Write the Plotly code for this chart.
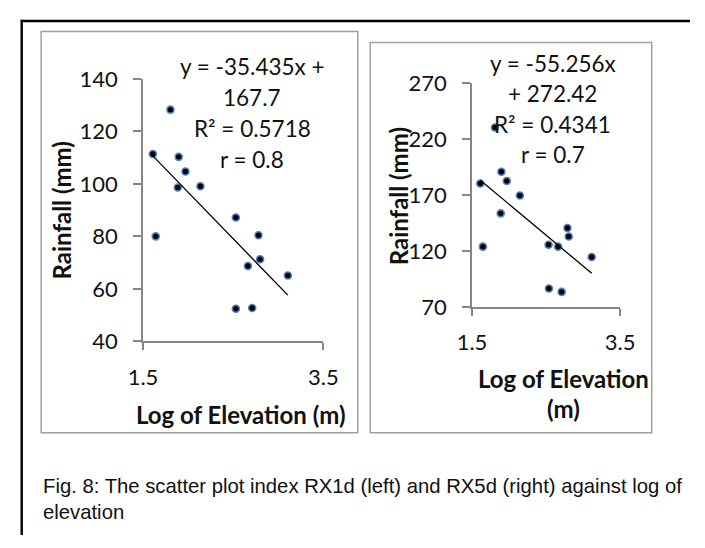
import plotly.graph_objects as go

W, H = 705, 548

# Left panel (RX1d)
x_left = [1.609, 1.804, 1.641, 1.896, 1.886, 1.971, 2.137, 2.530, 2.781, 2.799, 2.664, 3.107, 2.530, 2.711]
y_left = [111.4, 128.3, 80.0, 110.3, 98.6, 104.7, 99.1, 87.2, 80.4, 71.3, 68.7, 65.1, 52.4, 52.7]
slope_left, intercept_left = -35.435, 167.7
eq_left = ["y = -35.435x +", "167.7", "R² = 0.5718", "r = 0.8"]

# Right panel (RX5d)
x_right = [1.612, 1.647, 1.810, 1.897, 1.970, 1.888, 2.147, 2.534, 2.663, 2.789, 2.806, 3.116, 2.539, 2.711]
y_right = [180.4, 124.0, 230.4, 190.8, 182.6, 153.7, 169.6, 125.7, 124.0, 140.7, 133.1, 114.7, 86.6, 83.6]
slope_right, intercept_right = -55.256, 272.42
eq_right = ["y = -55.256x", "+ 272.42", "R² = 0.4341", "r = 0.7"]

x_ticks = [1.5, 3.5]
x_tick_text = ["1.5", "3.5"]
y_ticks_left = [40, 60, 80, 100, 120, 140]
y_ticks_right = [70, 120, 170, 220, 270]

x_title_left = ["Log of Elevation (m)"]
x_title_right = ["Log of Elevation", "(m)"]
y_title = "Rainfall (mm)"
caption = ["Fig. 8: The scatter plot index RX1d (left) and RX5d (right) against log of",
           "elevation"]

FONT = "Lato, 'Open Sans', sans-serif"
AXCOL = "#868686"
TXT = "#111"


def px(v):
    return v / W


def py(v):
    return 1 - v / H


fig = go.Figure()

marker = dict(color="black", size=7, line=dict(color="#4F81BD", width=1.6))

fig.add_trace(go.Scatter(x=x_left, y=y_left, mode="markers", marker=marker,
                         xaxis="x", yaxis="y", showlegend=False))
xl = [min(x_left), max(x_left)]
fig.add_trace(go.Scatter(x=xl, y=[slope_left * v + intercept_left for v in xl], mode="lines",
                         line=dict(color="black", width=1.3), xaxis="x", yaxis="y", showlegend=False))

fig.add_trace(go.Scatter(x=x_right, y=y_right, mode="markers", marker=marker,
                         xaxis="x2", yaxis="y2", showlegend=False))
xr = [min(x_right), max(x_right)]
fig.add_trace(go.Scatter(x=xr, y=[slope_right * v + intercept_right for v in xr], mode="lines",
                         line=dict(color="black", width=1.3), xaxis="x2", yaxis="y2", showlegend=False))

tickfont = dict(family=FONT, size=22, color=TXT)
common_x = dict(range=[1.5, 3.5], tickvals=x_ticks, ticktext=x_tick_text, showline=True,
                linecolor=AXCOL, linewidth=1.5, ticks="outside", ticklen=7, tickcolor=AXCOL,
                tickwidth=1.5, showgrid=False, zeroline=False, tickfont=tickfont)
common_y = dict(showline=True, linecolor=AXCOL, linewidth=1.5, ticks="outside", ticklen=8,
                tickcolor=AXCOL, tickwidth=1.5, showgrid=False, zeroline=False,
                ticklabelstandoff=11, tickfont=tickfont)

fig.update_layout(
    width=W, height=H, margin=dict(l=0, r=0, t=0, b=0),
    paper_bgcolor="white", plot_bgcolor="rgba(0,0,0,0)",
    xaxis=dict(domain=[px(133.7), px(322)], anchor="y", ticklabelstandoff=9, **common_x),
    yaxis=dict(domain=[py(344.3), py(68.3)], anchor="x", range=[40, 140],
               tickvals=y_ticks_left, **common_y),
    xaxis2=dict(domain=[px(477.3), px(632)], anchor="y2", ticklabelstandoff=8, **common_x),
    yaxis2=dict(domain=[py(308.3), py(72.7)], anchor="x2", range=[70, 270],
                tickvals=y_ticks_right, **common_y),
)

shapes = [
    # outer frame lines
    dict(type="line", xref="paper", yref="paper", x0=px(6), x1=1, y0=py(7.3), y1=py(7.3),
         line=dict(color="black", width=2.4)),
    dict(type="line", xref="paper", yref="paper", x0=px(7), x1=px(7), y0=py(6), y1=0,
         line=dict(color="black", width=2.4)),
    # panel boxes
    dict(type="rect", xref="paper", yref="paper", x0=px(27.3), x1=px(358), y0=py(440.5), y1=py(18.3),
         line=dict(color="#a0a0a0", width=1.5)),
    dict(type="rect", xref="paper", yref="paper", x0=px(371), x1=px(665), y0=py(440.5), y1=py(30),
         line=dict(color="#a0a0a0", width=1.5)),
]
fig.update_layout(shapes=shapes)

ann = []


def add_lines(lines, xc, ycs, size, bold=False, family=FONT, xanchor="center"):
    for t, yc in zip(lines, ycs):
        ann.append(dict(text=("<b>%s</b>" % t) if bold else t, x=px(xc), y=py(yc),
                        xref="paper", yref="paper", xanchor=xanchor, yanchor="middle",
                        showarrow=False, font=dict(family=family, size=size, color=TXT)))


add_lines(eq_left, 248, [55, 88, 120, 153], 22.5)
add_lines(eq_right, 561.7, [51.7, 83.3, 116, 148.3], 22.5)
add_lines(x_title_left, 236.3, [421.7], 24, bold=True)
add_lines(x_title_right, 573, [383.3, 415], 24, bold=True)
for xc, yc in [(49, 206.7), (400, 191.7)]:
    ann.append(dict(text="<b>" + y_title + "</b>", x=px(xc), y=py(yc), xref="paper", yref="paper",
                    xanchor="center", yanchor="middle", showarrow=False, textangle=-90,
                    font=dict(family=FONT, size=24, color=TXT)))
add_lines(caption, 27, [496, 523.5], 20.3, family="Liberation Sans, Arial, sans-serif", xanchor="left")
fig.update_layout(annotations=ann)

fig.write_html("out.html")
